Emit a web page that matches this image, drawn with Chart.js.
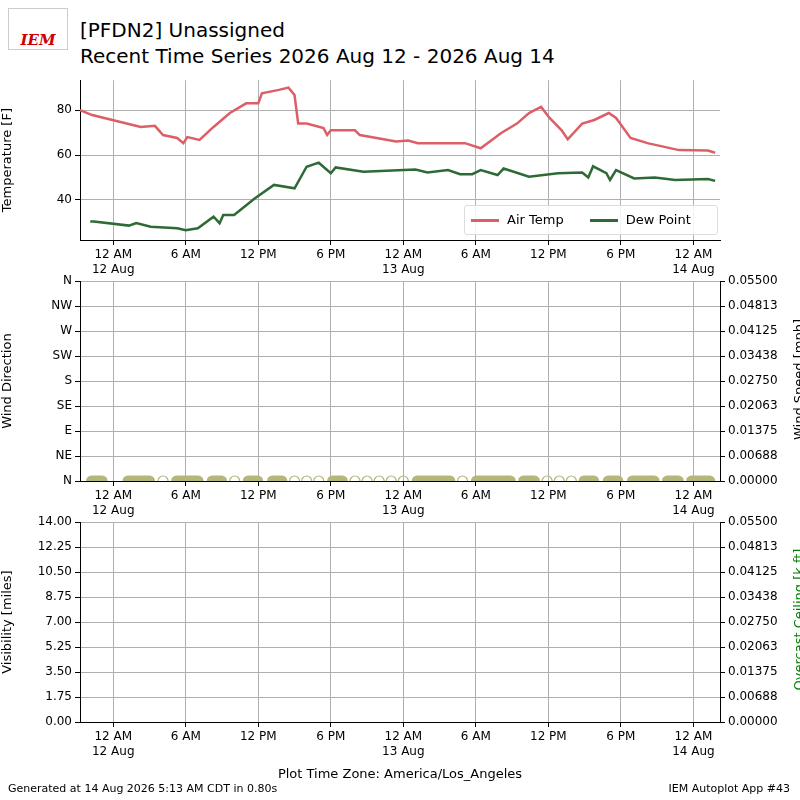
<!DOCTYPE html>
<html>
<head>
<meta charset="utf-8">
<script src="https://cdn.jsdelivr.net/npm/chart.js@4"></script>
<style>
  body { margin: 0; width: 800px; height: 800px; background: #fff; position: relative; font-family: "DejaVu Sans", sans-serif; overflow: hidden; }
  .abs { position: absolute; }
  canvas { position: absolute; left: 0; }
  .rt { position: absolute; width: 300px; text-align: center; font-size: 13px; transform: rotate(-90deg); transform-origin: center; }
</style>
</head>
<body>
<div class="abs" style="left:8px;top:8px;width:58px;height:40px;border:1px solid #ccc;font:italic bold 15px 'DejaVu Serif',serif;color:#c00;text-align:center;line-height:62px;">IEM</div>
<div class="abs" style="left:80px;top:17px;font-size:20px;line-height:26px;">[PFDN2] Unassigned<br>Recent Time Series 2026 Aug 12 - 2026 Aug 14</div>
<canvas id="c1" width="800" height="215" style="top:70px"></canvas>
<canvas id="c2" width="800" height="260" style="top:271px"></canvas>
<canvas id="c3" width="800" height="260" style="top:512px"></canvas>
<div class="rt" style="left:648px;top:372px;">Wind Speed [mph]</div>
<div class="rt" style="left:648px;top:612px;color:green;">Overcast Ceiling [k ft]</div>
<div class="abs" style="left:464px;top:205px;width:252px;height:28px;border:1px solid #ddd;border-radius:3px;background:rgba(255,255,255,0.85);font-size:13px;line-height:28px;">
  <span style="display:inline-block;width:28px;height:3px;background:#dc5f67;vertical-align:middle;margin:0 8px 0 6px"></span>Air Temp
  <span style="display:inline-block;width:28px;height:3px;background:#2e6a35;vertical-align:middle;margin:0 8px 0 22px"></span>Dew Point
</div>
<div class="abs" style="left:0;width:800px;top:766px;text-align:center;font-size:13px;">Plot Time Zone: America/Los_Angeles</div>
<div class="abs" style="left:8px;top:782px;font-size:11px;">Generated at 14 Aug 2026 5:13 AM CDT in 0.80s</div>
<div class="abs" style="right:10px;top:782px;font-size:11px;">IEM Autoplot App #43</div>
<script>
// hours since 12 Aug 00:00 (America/Los_Angeles)
const tickHours = [0, 6, 12, 18, 24, 30, 36, 42, 48];
const tickLabels = [['12 AM', '12 Aug'], '6 AM', '12 PM', '6 PM', ['12 AM', '13 Aug'], '6 AM', '12 PM', '6 PM', ['12 AM', '14 Aug']];

const tempHours = [-2.75, -1.74, 0.6, 2.28, 3.45, 4.12, 5.29, 5.8, 6.13, 7.14, 8.3, 9.65, 11, 12, 12.3, 13.7, 14.5, 15, 15.3, 16, 17.4, 17.7, 18, 20, 20.4, 23.4, 24.4, 25.2, 29.1, 30.4, 32.1, 33.4, 34.4, 35.4, 36.1, 37.1, 37.6, 38.8, 39.8, 41, 41.6, 42.8, 44.2, 46.8, 49.2, 49.8];
const airTemp = [80, 77.8, 74.7, 72.5, 73, 68.9, 67.6, 65.3, 68, 66.7, 72.5, 78.7, 83, 83, 87.5, 89, 90, 86.7, 74, 74, 72, 68.9, 71, 71, 68.9, 66, 66.5, 65.3, 65.3, 63, 69.8, 74, 78.7, 81.4, 76.5, 71, 67, 74, 75.6, 78.7, 76.5, 67.6, 65.3, 62.2, 62, 61];

const dewHours = [-1.9, -1.6, 1.3, 1.9, 3.1, 5.3, 6, 7, 8.3, 8.8, 9.1, 10, 11.7, 13.3, 15, 16, 17, 18, 18.4, 20.7, 25, 26, 27.7, 28.7, 29.7, 30.4, 31.8, 32.3, 34.4, 36.8, 38.8, 39.3, 39.7, 40.8, 41.1, 41.6, 43.1, 44.8, 46.5, 49.2, 49.8];
const dewPoint = [30.4, 30.4, 28.6, 29.7, 28.1, 27.4, 26.5, 27.4, 32.6, 29.7, 33.3, 33.3, 40.7, 46.7, 45.2, 54.8, 56.6, 51.9, 54.5, 52.6, 53.6, 52.2, 53.3, 51.5, 51.5, 53.3, 51.1, 54, 50.4, 51.9, 52.2, 50, 55, 51.9, 48.9, 53.3, 49.6, 50, 48.9, 49.3, 48.5];

// runs of closely spaced calm reports [start, end] and isolated reports
const calmRuns = [[-2.24, -0.47], [0.77, 3.45], [4.79, 7.47], [7.74, 9.41], [10.72, 12.4], [12.73, 14.4], [17.7, 19.4], [24.7, 28.3], [29.6, 33.3], [33.5, 35.3], [38.5, 40.2], [40.5, 42.2], [42.5, 45.2], [45.4, 47.2], [47.4, 49.8]];
const calmSingles = [4.12, 10.05, 15, 16, 17, 20, 21, 22, 23, 24, 28.9, 35.9, 36.9, 37.9];

const dirTicks = [0, 45, 90, 135, 180, 225, 270, 315, 360];
const dirLabels = ['N', 'NE', 'E', 'SE', 'S', 'SW', 'W', 'NW', 'N'];
const speedTicks = [0, 0.006875, 0.01375, 0.020625, 0.0275, 0.034375, 0.04125, 0.048125, 0.055];
const visTicks = [0, 1.75, 3.5, 5.25, 7, 8.75, 10.5, 12.25, 14];

const font = { family: 'DejaVu Sans', size: 12 };
const grid = { color: '#b0b0b0', drawTicks: true, tickColor: '#000', tickLength: 5 };
const border = { color: '#000', width: 1 };
Chart.defaults.color = '#000';
Chart.defaults.animation = false;

function xAxis(height) {
  return {
    type: 'linear', min: -2.75, max: 50.2,
    afterBuildTicks: s => { s.ticks = tickHours.map(v => ({ value: v })); },
    afterFit: s => { s.height = height; },
    ticks: { font: font, maxRotation: 0, autoSkip: false, padding: 3, callback: (v, i) => tickLabels[i] },
    grid: grid, border: border
  };
}
function yAxis(pos, min, max, ticks, fmt, title, showGrid) {
  return {
    position: pos, min: min, max: max,
    afterBuildTicks: s => { s.ticks = ticks.map(v => ({ value: v })); },
    afterFit: s => { s.width = 80; },
    ticks: { font: font, autoSkip: false, padding: 3, callback: fmt },
    title: { display: !!title, text: title, font: { family: 'DejaVu Sans', size: 13 }, padding: 0 },
    grid: Object.assign({}, grid, { display: true, drawOnChartArea: showGrid }),
    border: border
  };
}
const pts = (xs, ys) => xs.map((x, i) => ({ x: x, y: ys[i] }));

new Chart(document.getElementById('c1'), {
  type: 'line',
  data: { datasets: [
    { data: pts(tempHours, airTemp), borderColor: '#dc5f67', borderWidth: 2.5, pointRadius: 0 },
    { data: pts(dewHours, dewPoint), borderColor: '#2e6a35', borderWidth: 2.5, pointRadius: 0 }
  ] },
  options: {
    responsive: false, layout: { padding: { top: 5, right: 80, left: 0 } },
    plugins: { legend: { display: false }, tooltip: { enabled: false } },
    scales: {
      x: xAxis(45),
      y: yAxis('left', 22.2, 93.3, [40, 60, 80], v => v, 'Temperature [F]', true)
    }
  }
});

const runData = [];
calmRuns.forEach(r => { runData.push({ x: r[0] + 0.45, y: 0 }, { x: r[1] - 0.45, y: 0 }, { x: r[1], y: null }); });

new Chart(document.getElementById('c2'), {
  type: 'line',
  data: { datasets: [
    { data: runData, yAxisID: 'y2', borderColor: '#b5b67a', borderWidth: 11, borderCapStyle: 'round', pointRadius: 0, spanGaps: false },
    { data: calmSingles.map(x => ({ x: x, y: 0 })), yAxisID: 'y2', showLine: false, pointRadius: 5, borderWidth: 1.2, borderColor: '#b5b67a', backgroundColor: 'rgba(0,0,0,0)' }
  ] },
  options: {
    responsive: false, layout: { padding: { top: 5 } },
    plugins: { legend: { display: false }, tooltip: { enabled: false } },
    scales: {
      x: xAxis(50),
      y: yAxis('left', 0, 360, dirTicks, (v, i) => dirLabels[i], 'Wind Direction', true),
      y2: yAxis('right', 0, 0.055, speedTicks, v => v.toFixed(5), '', false)
    }
  }
});

new Chart(document.getElementById('c3'), {
  type: 'line',
  data: { datasets: [] },
  options: {
    responsive: false, layout: { padding: { top: 5 } },
    plugins: { legend: { display: false }, tooltip: { enabled: false } },
    scales: {
      x: xAxis(50),
      y: yAxis('left', 0, 14, visTicks, v => v.toFixed(2), 'Visibility [miles]', true),
      y2: yAxis('right', 0, 0.055, speedTicks, v => v.toFixed(5), '', false)
    }
  }
});
</script>
</body>
</html>
